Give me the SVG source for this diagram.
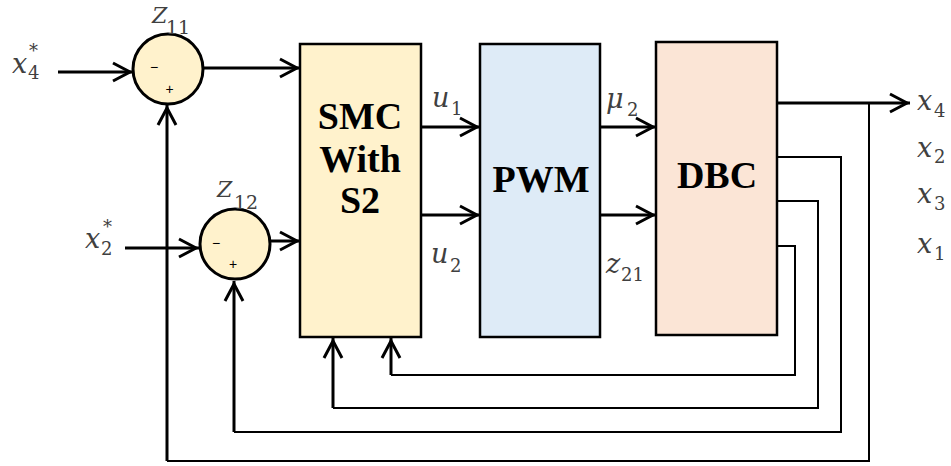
<svg xmlns="http://www.w3.org/2000/svg" width="951" height="466" viewBox="0 0 951 466">
<defs>
<style>
.box{stroke:#000;stroke-width:2.5}
.sum{fill:#FFF2CC;stroke:#000;stroke-width:3}
.thick{fill:none;stroke:#000;stroke-width:3}
.thin{fill:none;stroke:#000;stroke-width:2}
.blk{font-family:"Liberation Serif","Times New Roman",serif;font-weight:bold;font-size:38px;fill:#000;text-anchor:middle}
.m{font-family:"DejaVu Serif",serif;font-style:italic;font-size:27px;fill:#404040}
.s{font-family:"DejaVu Serif",serif;font-size:18px;fill:#404040}
.zl{font-family:"DejaVu Serif",serif;font-style:italic;font-size:22px;fill:#404040}
.zs{font-family:"DejaVu Serif",serif;font-size:19px;fill:#404040}
.sg{font-family:"Liberation Sans",Arial,sans-serif;font-size:14px;fill:#000;text-anchor:middle}
</style>
<marker id="arr" markerUnits="userSpaceOnUse" markerWidth="26" markerHeight="26" viewBox="-22 -13 26 26" refX="3" refY="0" orient="auto">
<path d="M-17,-9 L0,0 L-17,9" fill="none" stroke="#000" stroke-width="3"/>
</marker>
</defs>
<rect width="951" height="466" fill="#fff"/>

<g id="connectors">
<path class="thick" d="M58,72 H133" marker-end="url(#arr)"/>
<path class="thick" d="M203,68 H300" marker-end="url(#arr)"/>
<path class="thick" d="M125,248 H199" marker-end="url(#arr)"/>
<path class="thick" d="M271,241 H300" marker-end="url(#arr)"/>
<path class="thick" d="M421,127 H480" marker-end="url(#arr)"/>
<path class="thick" d="M421,215 H480" marker-end="url(#arr)"/>
<path class="thick" d="M600,127 H656" marker-end="url(#arr)"/>
<path class="thick" d="M600,215 H656" marker-end="url(#arr)"/>
<path class="thick" d="M777,103 H910" marker-end="url(#arr)"/>
<path class="thin" d="M869,103 V461 H167"/>
<path class="thick" d="M167,461 V105" marker-end="url(#arr)"/>
<path class="thin" d="M777,157 H841 V432 H234"/>
<path class="thick" d="M234,432 V281" marker-end="url(#arr)"/>
<path class="thin" d="M777,201 H818 V408 H333"/>
<path class="thick" d="M333,408 V338" marker-end="url(#arr)"/>
<path class="thin" d="M777,246 H795 V375 H391"/>
<path class="thick" d="M391,375 V338" marker-end="url(#arr)"/>
</g>

<g id="sum1">
<circle class="sum" cx="168" cy="69" r="35"/>
<text class="sg" x="154" y="72">−</text>
<text class="sg" x="169.5" y="94">+</text>
<text class="zl" x="152" y="23">Z</text><text class="zs" x="166" y="34">11</text>
</g>

<g id="sum2">
<circle class="sum" cx="235" cy="244" r="35"/>
<text class="sg" x="216" y="248">−</text>
<text class="sg" x="233" y="269">+</text>
<text class="zl" x="217" y="197">Z</text><text class="zs" x="234" y="209">12</text>
</g>

<g id="smc">
<rect class="box" x="300" y="44" width="121" height="293" fill="#FFF2CC"/>
<text class="blk" x="360" y="129">SMC</text>
<text class="blk" x="360" y="172">With</text>
<text class="blk" x="360" y="213">S2</text>
</g>

<g id="pwm">
<rect class="box" x="480" y="44" width="120" height="293" fill="#DEEBF7"/>
<text class="blk" x="541" y="192">PWM</text>
</g>

<g id="dbc">
<rect class="box" x="656" y="42" width="121" height="293" fill="#FBE5D6"/>
<text class="blk" x="717" y="188">DBC</text>
</g>

<g id="labels">
<text class="m" x="12" y="73">x</text><text class="s" x="28" y="79" font-size="16">4</text><text class="s" x="29" y="57">*</text>
<text class="m" x="85" y="248">x</text><text class="s" x="101" y="255" font-size="16">2</text><text class="s" x="103" y="233">*</text>
<text class="m" x="432" y="107">u</text><text class="s" x="451" y="115">1</text>
<text class="m" x="431" y="263">u</text><text class="s" x="450" y="272">2</text>
<text class="m" x="606" y="108">μ</text><text class="s" x="627" y="116">2</text>
<text class="m" x="606" y="273">z</text><text class="s" x="621" y="281">21</text>
<text class="m" x="917" y="110">x</text><text class="s" x="934" y="117">4</text>
<text class="m" x="917" y="157">x</text><text class="s" x="934" y="163">2</text>
<text class="m" x="917" y="203">x</text><text class="s" x="934" y="210">3</text>
<text class="m" x="917" y="253">x</text><text class="s" x="934" y="260">1</text>
</g>
</svg>
